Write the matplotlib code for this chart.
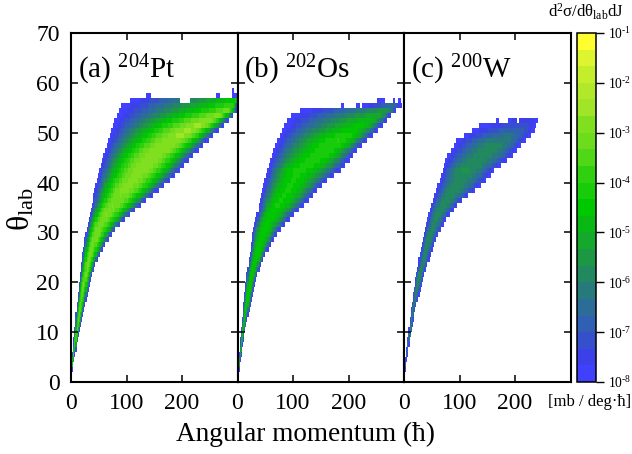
import numpy as np
import matplotlib
matplotlib.use("Agg")
import matplotlib.pyplot as plt
from matplotlib.colors import ListedColormap, BoundaryNorm

plt.rcParams['font.family'] = ['Liberation Serif', 'DejaVu Serif']
plt.rcParams['mathtext.fontset'] = 'custom'
plt.rcParams['mathtext.rm'] = 'Liberation Serif'
plt.rcParams['mathtext.it'] = 'Liberation Serif:italic'
plt.rcParams['mathtext.bf'] = 'Liberation Serif:bold'
plt.rcParams['mathtext.default'] = 'rm'

#---------------- data, one entry per 1 deg row, from theta = 2 ----------------#
left_a = [1,2,2,3,4,5,5,6,7,8,8,9,10,11,12,13,14,14,16,17,18,19,20,21,22,24,25,27,28,30,32,34,36,38,40,41,43,45,47,49,51,54,56,59,62,64,67,70,73,76,79,83,87,91,106]
right_a = [3,4,6,7,9,10,12,13,15,17,19,21,23,25,27,29,31,33,35,38,41,44,48,52,57,62,67,73,80,88,97,106,115,125,136,147,157,168,178,187,196,204,212,220,229,238,247,256,266,276,284,292,300,300,300]
ridge_a = [2,3,4,5,6,7,8,10,11,12,13,14,16,17,19,20,21,23,24,26,28,30,32,34,36,39,42,45,48,52,57,63,69,75,82,89,96,103,110,118,126,134,142,150,161,172,184,197,210,228,245,263,280,290,298]
peak_a = [-4.5,-4.3,-4.2,-4.0,-3.9,-3.8,-3.7,-3.6,-3.6,-3.5,-3.5,-3.5,-3.4,-3.4,-3.4,-3.4,-3.3,-3.3,-3.3,-3.3,-3.3,-3.2,-3.2,-3.2,-3.2,-3.2,-3.1,-3.1,-3.1,-3.1,-3.1,-3.0,-3.0,-3.0,-3.0,-3.0,-2.9,-2.9,-2.9,-2.9,-2.8,-2.8,-2.8,-2.8,-2.7,-2.7,-2.7,-2.6,-2.6,-2.6,-2.7,-2.9,-3.2,-3.7,-4.3]

left_b = [1,1,2,3,4,5,5,6,7,8,9,10,10,11,12,13,14,15,16,17,18,20,21,22,24,25,26,27,29,31,33,35,38,39,41,43,45,47,49,52,54,56,59,62,65,69,72,76,80,85,90,96,113,224]
right_b = [3,4,5,7,8,9,11,12,14,16,17,19,21,23,25,27,29,31,33,36,39,42,46,50,55,60,65,71,77,85,93,101,110,119,127,136,144,152,161,173,185,194,201,208,215,224,233,243,253,261,269,276,286,296]
ridge_b = [2,3,4,5,6,7,8,9,10,12,13,14,15,17,18,19,21,22,24,26,28,30,32,35,37,39,42,44,47,51,56,61,66,72,78,84,90,95,100,105,110,124,137,150,160,170,181,193,205,220,235,250,265,275]
peak_b = [-5.0,-4.9,-4.8,-4.7,-4.7,-4.6,-4.6,-4.6,-4.5,-4.5,-4.5,-4.5,-4.5,-4.5,-4.5,-4.5,-4.4,-4.4,-4.4,-4.4,-4.4,-4.4,-4.4,-4.4,-4.4,-4.4,-4.4,-4.4,-4.4,-4.4,-4.4,-4.4,-4.4,-4.3,-4.3,-4.3,-4.3,-4.3,-4.3,-4.3,-4.2,-4.2,-4.2,-4.1,-4.1,-4.0,-4.0,-4.1,-4.4,-4.5,-4.7,-5.0,-5.5,-6.5]

left_c = [1,2,3,4,5,6,7,8,9,10,11,12,13,14,16,17,18,20,21,23,24,26,27,29,31,32,34,36,38,40,42,44,46,48,52,55,58,61,65,67,70,72,75,79,84,90,95,108,122,137,167]
right_c = [3,4,5,7,8,9,10,12,14,15,17,18,20,22,25,27,29,31,33,36,39,42,45,48,51,54,58,62,66,71,76,82,89,96,104,116,128,138,148,155,162,174,186,196,203,210,219,228,236,238,241]
ridge_c = [2,3,4,5,6,7,8,10,11,12,13,15,16,18,20,21,23,24,26,28,30,33,35,37,39,42,44,47,50,53,57,60,65,70,76,82,88,94,100,104,108,120,132,143,152,161,172,185,198,210,220]
peak_c = [-6.6,-6.5,-6.4,-6.3,-6.2,-6.1,-6.1,-6.0,-6.0,-6.0,-6.0,-6.0,-6.0,-6.0,-6.0,-6.0,-5.9,-5.9,-5.9,-5.9,-5.9,-5.9,-5.9,-5.9,-5.9,-5.9,-5.9,-5.9,-5.9,-5.9,-5.9,-5.8,-5.8,-5.8,-5.8,-5.8,-5.8,-5.8,-5.8,-5.7,-5.6,-5.7,-5.8,-5.8,-5.8,-5.8,-6.0,-6.3,-6.7,-7.0,-7.4]

# stray cells on the top edge and holes in it: theta row, J from, J to
extra_a = [(57,137,144),(57,263,268),(57,290,300),(58,290,293)]
holes_a = [(56,196,214)]
extra_b = [(55,187,192),(55,215,220),(56,253,265),(56,281,284),(56,290,293),(46,66,68)]
holes_b = []
extra_c = []
holes_c = [(52,173,188),(52,205,208)]

labels = ["(a) $^{204}$Pt", "(b) $^{202}$Os", "(c) $^{200}$W"]
xtick_vals = [0, 100, 200]
ytick_vals = [0, 10, 20, 30, 40, 50, 60, 70]
bar_colors = ['#4040ff','#3c40e8','#3650cc','#3060b4','#2c6c98','#277a7c','#218860','#1c9844','#14a82c','#0ab814','#00c800',
              '#18cc0c','#30d010','#50d818','#6cdc1c','#80e020','#a0e527','#b2e82a','#c4ee2c','#ddf52f','#ffff30']
bar_levels = np.arange(-8, -1+1/6, 1/3)

def make_grid(left, right, ridge, peak, extra, holes):
    j_edges = np.arange(0, 301, 2)
    th_edges = np.arange(0, 71, 1)
    z = np.full((70, len(j_edges)-1), np.nan)
    for i in range(len(left)):
        t = i+2
        for k in range(len(j_edges)-1):
            j0 = j_edges[k]
            j1 = j_edges[k+1]
            if j1 <= left[i] or j0 >= right[i]:
                continue
            jc = (j0+j1)/2
            if jc < ridge[i]:
                u = (ridge[i]-jc)/max(ridge[i]-left[i], 1)
                p = 2-1*np.clip((t-44)/10, 0, 1)
            else:
                u = (jc-ridge[i])/max(right[i]-ridge[i], 1)
                p = 2
            z[t, k] = -8+(peak[i]+8)*(1-min(u, 1)**p)
    for t, a, b in extra:
        z[t, (j_edges[:-1] < b) & (j_edges[1:] > a)] = -7.8
    for t, a, b in holes:
        z[t, (j_edges[:-1] < b) & (j_edges[1:] > a)] = np.nan
    return j_edges, th_edges, np.ma.masked_invalid(z)

W, H = 632, 454
fig = plt.figure(figsize=(W/100, H/100), dpi=100)
cmap = ListedColormap(bar_colors)
norm = BoundaryNorm(bar_levels, cmap.N)

panels = [(left_a, right_a, ridge_a, peak_a, extra_a, holes_a),
          (left_b, right_b, ridge_b, peak_b, extra_b, holes_b),
          (left_c, right_c, ridge_c, peak_c, extra_c, holes_c)]
x0 = [71, 237.5, 404]
for n in range(3):
    ax = fig.add_axes([x0[n]/W, (H-382)/H, 166.5/W, 349/H])
    je, te, z = make_grid(*panels[n])
    mesh = ax.pcolormesh(je, te, z, cmap=cmap, norm=norm, rasterized=True)
    ax.set_xlim(0, 300)
    ax.set_ylim(0, 70)
    ax.set_xticks(xtick_vals)
    ax.set_yticks(ytick_vals)
    ax.tick_params(direction='in', length=5, width=1.1, top=True, right=True, labelsize=17)
    ax.tick_params(axis='y', pad=8)
    ax.tick_params(axis='x', pad=8)
    if n > 0:
        ax.tick_params(labelleft=False)
    for s in ax.spines.values():
        s.set_linewidth(1.5)
    ax.text(0.04, 0.895, labels[n], transform=ax.transAxes, fontsize=21, ha='left', va='center')

fig.text(21/W, 1-209/H, "θ$_{\\mathrm{lab}}$", fontsize=23, rotation=90, ha='center', va='center')
fig.text(306/W, 1-434/H, "Angular momentum (ħ)", fontsize=19.6, ha='center', va='center')

cax = fig.add_axes([577/W, (H-382)/H, 19/W, 349/H])
cb = fig.colorbar(mesh, cax=cax, ticks=np.arange(-8, 0))
cb.ax.set_yticklabels(["$10^{\\text{-}%d}$" % abs(v) for v in range(-8, 0)])
cb.ax.tick_params(length=6, width=1, labelsize=9.8, pad=2.5)
cb.ax.minorticks_off()
cb.outline.set_linewidth(1.1)
fig.text(585.5/W, 1-12/H, r"d$^2$σ/dθ$_{\mathrm{lab}}$dJ", fontsize=12, ha='center', va='center')
fig.text(590/W, 1-402/H, "[mb / deg·ħ]", fontsize=12, ha='center', va='center')

fig.savefig("out.png", dpi=100)
